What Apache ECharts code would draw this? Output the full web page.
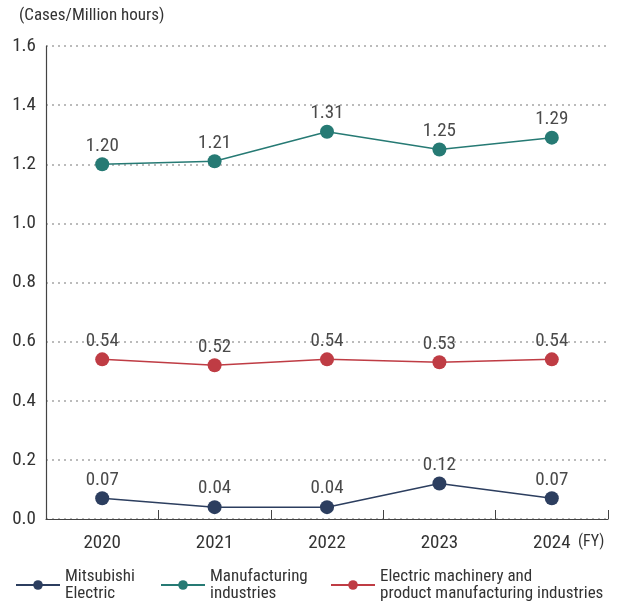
<!DOCTYPE html>
<html><head><meta charset="utf-8">
<script src="https://cdn.jsdelivr.net/npm/echarts@6/dist/echarts.min.js"></script>
<style>html,body{margin:0;padding:0;background:#fff}#c{width:617px;height:607px}</style>
</head><body><div id="c"></div>
<script>
const years = ['2020','2021','2022','2023','2024'];
const mitsubishi = [0.07, 0.04, 0.04, 0.12, 0.07];
const manufacturing = [1.20, 1.21, 1.31, 1.25, 1.29];
const electric = [0.54, 0.52, 0.54, 0.53, 0.54];
const names = ['Mitsubishi\nElectric', 'Manufacturing\nindustries', 'Electric machinery and\nproduct manufacturing industries'];
const colors = ['#2c3e5f', '#267a74', '#bf3c44'];
const FONT = '"Liberation Sans Narrow", "Roboto Condensed", sans-serif';

function mk(name, data, color) {
  return {
    name, type: 'line', data,
    symbol: 'circle', symbolSize: 14,
    lineStyle: { color, width: 1.5 },
    itemStyle: { color },
    label: { show: true, position: 'top', distance: 2, color: '#4a4a4a', fontSize: 19, fontFamily: FONT,
      formatter: p => p.value.toFixed(2) },
    z: 3
  };
}
const chart = echarts.init(document.getElementById('c'));
const legBase = { top: 563, itemWidth: 44, itemHeight: 12, itemGap: 7,
  textStyle: { fontSize: 17, fontFamily: FONT, color: '#333', lineHeight: 17 } };
chart.setOption({
  animation: false,
  grid: { left: 46, right: 9, top: 46, bottom: 88 },
  graphic: [
    { type: 'text', left: 19, top: 7, style: { text: '(Cases/Million hours)', fontSize: 17, fontFamily: FONT, fill: '#333' } },
    { type: 'text', left: 578, top: 534, style: { text: '(FY)', fontSize: 16, fontFamily: FONT, fill: '#333' } }
  ],
  legend: [
    Object.assign({}, legBase, { left: 10, data: [names[0]] }),
    Object.assign({}, legBase, { left: 155, data: [names[1]] }),
    Object.assign({}, legBase, { left: 325, data: [names[2]] })
  ],
  xAxis: {
    type: 'category', data: years, boundaryGap: true,
    axisLine: { lineStyle: { color: '#444', width: 1.2 } },
    axisTick: { show: true, inside: true, length: 9, lineStyle: { color: '#444' } },
    axisLabel: { fontSize: 19, fontFamily: FONT, color: '#333', margin: 15 }
  },
  yAxis: {
    type: 'value', min: 0, max: 1.6, interval: 0.2,
    axisLine: { show: true, lineStyle: { color: '#444', width: 1.2 } },
    axisTick: { show: false },
    axisLabel: { fontSize: 19, fontFamily: FONT, color: '#333', margin: 10,
      formatter: v => v.toFixed(1) },
    splitLine: { show: true, lineStyle: { color: '#bbb', type: [2, 4], width: 2 } }
  },
  series: [
    mk(names[0], mitsubishi, colors[0]),
    mk(names[1], manufacturing, colors[1]),
    mk(names[2], electric, colors[2])
  ]
});
</script></body></html>
